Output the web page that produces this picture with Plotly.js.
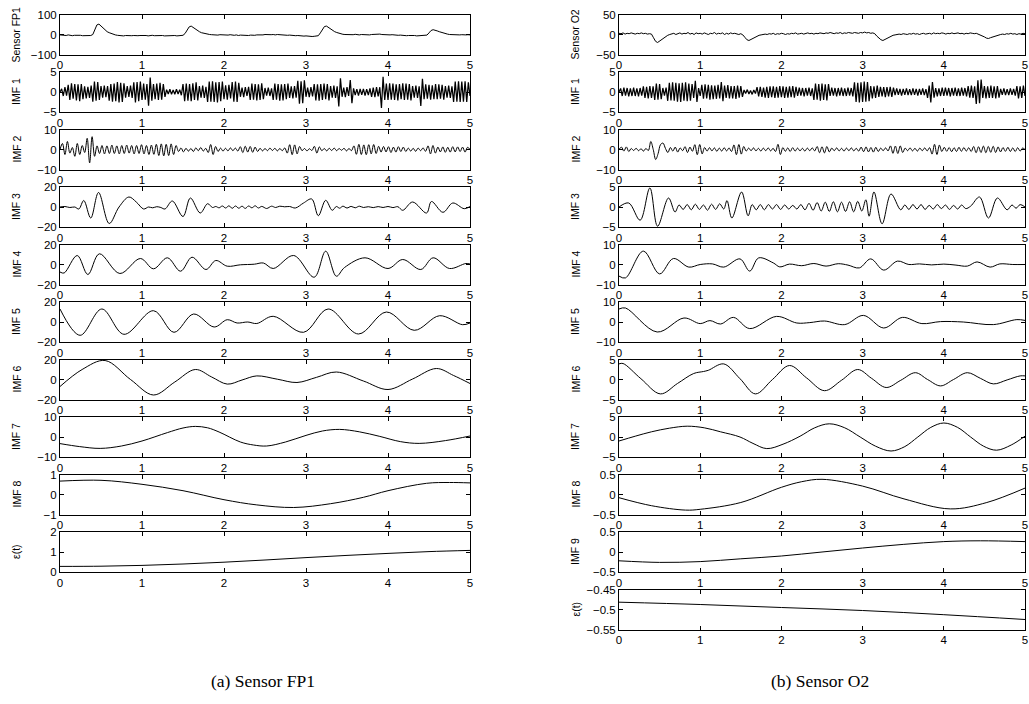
<!DOCTYPE html>
<html><head><meta charset="utf-8">
<script src="https://cdn.plot.ly/plotly-3.0.1.min.js"></script>
<style>html,body{margin:0;padding:0;background:#fff}#chart{width:1029px;height:704px}</style>
</head><body><div id="chart"></div>
<script>
// ---------------- DATA ----------------
// Uniformly sampled series: time grid spans 0..5 s over the array length.
const fp1Sensor = [-2,-4,-3,-5,-2,-4,-6,-4,-3,-5,-4,-6,-5,-4,-6,-5,
 0,25,48,52,42,32,22,14,9,4,1,-2,
 -4,-6,-5,-7,-5,-6,-4,-6,-5,-7,-6,-5,-4,-6,-5,-7,-5,-4,-6,-5,-6,-4,-5,-7,-6,-5,-4,-6,-5,-7,-6,-5,
 -4,5,22,38,42,34,26,19,14,9,6,3,1,0,
 -1,-2,0,-3,-1,-2,-4,-2,-3,-1,-3,-4,-2,-5,-3,-4,-6,-4,-5,-3,-5,-4,-2,-3,-1,-2,0,-1,1,-1,0,-2,0,-1,-3,-1,-2,-4,-3,-5,-4,-6,-5,-7,-6,-8,-7,-9,-8,-10,-9,-8,
 -6,8,28,40,42,34,26,19,14,10,6,3,1,
 0,-1,-2,0,-1,1,-1,-2,0,-1,-3,-1,-2,0,1,-1,0,2,0,-1,1,0,-2,-1,-3,-2,-4,-3,-5,-4,-6,-5,-4,-6,-5,-7,-6,-5,-7,-6,
 -3,8,20,24,22,18,14,10,7,4,2,0,
 -1,-2,-1,-3,-2,-1,-3,-2,-1,-2];

const fp1Imf1 = [0,0.8,-1.0,1.2,-0.9, 1.8,-2.0,2.2,-1.7,2.0, -2.1,1.9,-2.3,2.0,-1.8, 1.4,-1.6,1.3,-1.5,1.6,
 -2.4,2.6,-2.2,2.5,-2.0, 1.5,-1.4,1.6,-1.3,1.5, -2.2,2.0,-2.4,2.1,-2.3, 2.5,-2.6,2.3,-2.5,2.2,
 -1.4,1.5,-1.2,1.6,-1.5, 2.4,-2.6,2.5,-2.3,2.6, -2.0,2.1,-1.9,2.0,-3.4, 3.6,-2.2,2.0,-1.8,2.1,
 -2.0,2.3,-1.9,2.0,-1.2, 0.6,-0.5,0.7,-0.6,0.5, -0.6,0.7,-0.5,0.6,-0.8, 2.0,-2.3,2.1,-2.2,2.0,
 -2.3,2.2,-2.0,2.4,-2.1, 1.5,-1.4,1.6,-1.5,1.3, -2.5,2.6,-2.4,2.7,-2.5, 2.4,-2.6,2.5,-2.3,2.6,
 -1.8,1.7,-1.9,1.8,-1.6, 2.5,-2.4,2.6,-2.5,2.3, -1.2,1.1,-1.3,1.2,-1.0, 1.3,-2.0,2.1,-1.9,2.0,
 -2.1,1.9,-2.0,2.2,-1.8, 1.0,-0.9,1.1,-1.0,0.9, -2.0,2.1,-1.9,2.0,-2.2, 1.9,-2.1,2.0,-1.8,2.1,
 -1.5,1.4,-1.6,1.5,-1.4, 2.8,-2.9,2.7,-2.8,2.9, -1.2,1.1,-1.3,1.2,-1.1, 2.0,-2.1,1.9,-2.2,2.0,
 -2.0,2.1,-1.8,2.0,-2.1, 1.5,-1.4,1.6,-1.5,1.4, -3.6,3.4,-1.2,1.1,-1.3, 1.2,-1.0,3.0,-2.8,0.9,
 -0.8,0.7,-0.9,0.8,-0.7, 0.8,-0.9,0.7,-0.8,0.9, -1.2,1.1,-1.3,1.2,-1.1, 1.2,-4.0,3.8,-2.0,2.1,
 -2.0,2.2,-1.9,2.1,-2.0, 1.9,-2.1,2.0,-1.8,2.2, -2.0,2.1,-1.9,2.0,-2.1, 1.5,-1.4,1.6,-1.5,1.4,
 -3.5,3.3,-1.8,1.9,-1.7, 1.8,-1.9,1.7,-1.8,2.0, -1.8,1.9,-1.7,1.8,-1.9, 1.5,-1.4,1.6,-1.5,1.4,
 -2.5,2.6,-2.4,2.7,-2.5, 2.6,-2.4,2.7,-2.5,2.4, -1.0];

const fp1Imf2 = [0,3,-2.5,4,-1.8,1,-3.4,3,-2.5,2,-1.5,
 5.6,-6.7,6.4,-3.4,1.8,
 -2,2,-2.2,1.8,-2,2.2,-2,1.8,-2.2,2,-2,2.2,-1.8,2,-2.2,2,-2,2.4,-2.2,2,-2.5,2.2,-2.4,
 2.6,-3,2.8,-3.2,2.6,-3,2.8,-2.5,2,
 -1,0.8,-1.2,0.6,-0.8,0.5,-1,0.8,-0.6,1,-0.8,0.6,
 -1.5,2.5,-2.5,1.5,-1,
 0.7,-0.8,0.6,-0.7,0.8,-0.6,0.7,-0.8,
 1.4,-1.5,1.6,-1.3,1.5,-1.4,1.2,-1,
 0.6,-0.7,0.5,-0.6,0.7,-0.5,0.6,-0.7,0.5,-0.6,0.8,
 -1.8,2.4,-2.6,2.3,-2.2,1.5,
 -0.6,0.5,-0.7,0.4,-0.5,
 1.6,-1.8,1.3,
 -0.6,0.5,-0.7,0.6,-0.5,0.7,-0.6,0.5,-0.4,0.6,-0.7,0.5,-0.6,
 1.8,-2.4,2.6,-2.5,2.3,-2.6,2.4,-2.2,2.5,-2,1.6,
 -1.3,1.5,-1.2,1.4,-1.5,1.2,-1.3,1.4,-1,1.2,-1,
 0.7,-0.8,0.6,-0.9,0.7,-0.6,0.8,-0.9,
 1.8,-2.2,2,-1.8,1.2,
 -1.2,1.3,-1.4,1.1,-1.3,1.4,-1.2,1.3,-1,1.2,-1.3,1.1,0];

// Knot series (time in s, value)
const fp1Imf3T = [0,0.06,0.12,0.18,0.23,0.29,0.375,0.47,0.6,0.72,0.84,0.93,1.02,1.08,1.13,1.18,1.23,1.28,1.37,1.5,1.59,1.71,1.8,1.86,1.9,1.94,1.98,2.02,2.06,2.1,2.14,2.18,2.22,2.26,2.3,2.34,2.38,2.42,2.46,2.52,2.58,2.63,2.68,2.74,2.8,2.87,2.97,3.07,3.15,3.24,3.32,3.37,3.41,3.45,3.5,3.55,3.6,3.65,3.7,3.76,3.82,3.88,3.94,4.0,4.06,4.12,4.18,4.3,4.47,4.53,4.67,4.79,4.93,5.0];
const fp1Imf3V = [0,0.5,-0.5,0,-2,6.5,-11,14.5,-16.5,0,10,5,-2,0,-0.8,0.3,-0.5,-2,6,-9.5,9,-6,3.3,-0.5,0.5,-0.8,1,-1,1.2,-1.3,1,-1.2,0.8,-1.4,1,-0.8,1.2,-1,0.6,-1.5,0.8,-0.5,0.8,0.2,0.5,-1,4,8,-8.7,6.7,-3.3,0.5,-1.2,0.8,-1,0.6,-0.8,0.8,-0.5,0.3,-0.6,0.4,-0.5,0.5,-0.6,0.3,-3.3,5,-6,5.5,-5.3,4,-1.7,0.5];

const fp1Imf4T = [0,0.05,0.21,0.34,0.48,0.73,0.98,1.14,1.31,1.47,1.61,1.78,1.9,2.04,2.2,2.37,2.48,2.6,2.85,3.1,3.24,3.37,3.47,3.72,4.0,4.18,4.4,4.55,4.75,4.95,5.0];
const fp1Imf4V = [-7.5,-8.5,9,-10,10.7,-9,6,-4.3,6.7,-6.7,7.3,-5,4,-1.7,-0.3,0.3,1.5,-4,9,-12.7,13.3,-11.7,-3,6.7,-4,5,-5,6.7,-4,1,0.5];

const fp1Imf5T = [0,0.245,0.51,0.78,1.14,1.39,1.63,1.88,2.04,2.16,2.29,2.4,2.6,2.97,3.27,3.64,3.98,4.32,4.63,4.91,5.0];
const fp1Imf5V = [13,-13.3,13,-12.3,11.3,-10.3,8,-5,2.3,-1,0,-1.5,5.7,-10.3,13,-12,10,-8.3,6.3,-2.7,-1];

const fp1Imf6T = [0,0.27,0.55,0.86,1.14,1.4,1.65,1.85,2.04,2.22,2.4,2.65,2.89,3.13,3.37,3.7,4.0,4.3,4.59,4.8,5.0];
const fp1Imf6V = [-7,10,19,0,-15.5,-2.5,10,2.5,-4.6,-0.5,3.6,0.3,-3,2.2,7.5,-1.5,-10,0.5,11,4,-4];

const fp1Imf7T = [0,0.24,0.49,0.75,1.0,1.31,1.5,1.65,1.8,1.94,2.2,2.36,2.52,2.75,3.0,3.2,3.41,3.65,3.9,4.15,4.38,4.7,5.0];
const fp1Imf7V = [-3.3,-4.8,-5.7,-4.5,-2,2.2,4.5,5.3,4.6,2.5,-2.5,-4,-4.5,-2.5,0.8,3,3.8,2.6,0.3,-2.3,-3.2,-1.8,0.5];

const fp1Imf8T = [0,0.5,1.0,1.5,2.0,2.4,2.85,3.3,3.7,4.0,4.47,4.75,5.0];
const fp1Imf8V = [0.67,0.71,0.51,0.19,-0.26,-0.52,-0.65,-0.46,-0.14,0.19,0.56,0.6,0.58];

const fp1ResT = [0,0.5,1,1.5,2,2.5,3,3.5,4,4.5,5];
const fp1ResV = [0.28,0.29,0.33,0.4,0.49,0.6,0.72,0.83,0.93,1.02,1.08];

const o2Sensor = [3,2,4,1,3,2,4,3,1,3,2,4,2,3,1,2,
 1,-8,-17,-20,-16,-12,-8,-5,-2,0,
 1,3,0,2,4,1,3,2,5,1,3,0,4,2,3,1,4,2,0,3,2,5,1,3,2,4,0,3,1,4,2,3,1,0,2,
 -1,-7,-13,-15,-12,-9,-6,-4,-2,-1,0,
 1,0,2,1,3,0,2,1,3,2,0,2,1,3,2,4,1,2,3,1,2,4,2,3,1,3,2,4,3,2,4,3,5,3,2,4,3,5,2,4,3,5,4,3,5,4,3,5,4,6,4,5,3,4,
 2,-4,-9,-13,-15,-12,-9,-6,-4,-2,-1,0,
 1,0,2,1,0,2,1,3,1,2,0,2,3,1,2,3,1,4,2,3,2,4,3,1,3,2,4,2,3,4,2,3,1,3,2,4,3,2,3,1,
 0,-3,-6,-9,-10,-8,-6,-4,-2,-1,0,
 1,0,2,1,3,1,2,0,2,1,3,2];

const o2Imf1 = [0,0.9,-1.0,1.1,-0.9, 1.0,-1.1,0.9,-1.0,1.1, -1.0,0.9,-1.1,1.0,-0.9, 1.4,-1.5,1.3,-1.6,1.5,
 -1.5,1.4,-2.0,2.1,-1.9, 2.0,-1.8,1.0,-0.9,1.1, -2.2,2.3,-2.1,2.4,-2.2, 2.3,-2.4,2.2,-2.5,2.3,
 -2.2,2.4,-2.3,2.1,-2.2, 2.0,-1.5,2.8,-2.5,1.0, -1.0,1.8,-1.7,1.9,-1.6, 1.8,-1.9,1.7,-1.8,1.6,
 -1.7,1.8,-1.6,2.5,-2.3, 1.6,-1.5,1.7,-1.6,1.5, -1.6,1.5,-1.7,1.6,-1.4, 1.5,-1.2,0.5,-0.4,0.6,
 -0.5,0.4,-0.6,0.5,-0.4, 1.2,-1.1,1.3,-1.2,1.1, -1.4,1.3,-1.5,1.4,-1.3, 1.4,-1.5,1.3,-1.4,1.5,
 -1.3,1.4,-1.5,1.3,-1.4, 1.4,-1.3,1.5,-1.4,1.3, -1.0,1.1,-0.9,1.0,-1.1, 1.0,-0.9,1.1,-1.0,0.9,
 -2.0,2.1,-1.9,2.0,-2.2, 2.1,-2.0,1.9,-2.1,2.0, -1.0,1.1,-0.9,1.0,-1.1, 1.0,-0.9,1.1,-1.0,0.9,
 -1.0,1.1,-0.9,1.0,-1.1, 2.4,-2.5,2.3,-2.6,2.4, -2.5,2.6,-2.4,2.5,-2.3, 1.5,-1.6,1.4,-1.5,1.6,
 -1.2,1.3,-1.1,1.2,-1.3, 1.2,-1.1,1.3,-1.2,1.1, -0.8,0.9,-0.7,0.8,-0.9, 0.8,-0.7,0.9,-0.8,0.7,
 -0.8,0.9,-0.7,0.8,-0.9, 0.8,-0.7,0.9,-0.8,0.7, -1.5,1.6,-2.6,2.5,-1.4, 1.0,-1.1,0.9,-1.0,1.1,
 -1.0,1.1,-0.9,1.0,-1.1, 1.0,-0.9,1.1,-1.0,0.9, -1.0,1.1,-0.9,1.0,-1.1, 1.5,-1.4,1.6,-1.5,1.4,
 -3.0,2.9,-2.8,3.1,-1.5, 1.5,-1.6,1.4,-1.5,1.6, -1.5,1.4,-1.6,1.5,-1.4, 0.8,-0.7,0.9,-0.8,0.7,
 -0.8,0.9,-0.7,0.8,-0.9, 1.5,-1.6,1.4,-1.5,1.6, -1.0];

const o2Imf2 = [0,1.2,-0.8,1.3,-1,0.5,-0.5,0.6,-0.6,0.4,-0.8,0.5,
 -0.5,4,0,-5,-2,2.5,3.2,0.5,-1.5,
 1.0,-0.8,1.2,-1.3,0.8,-0.6,1.4,-1.5,1.2,-0.9,
 2.4,-2.6,2.5,-2.2,
 1.0,-0.8,0.9,-0.7,0.8,-0.9,0.7,-0.8,0.9,-0.7,0.8,-1.0,
 2.3,-2.6,2.5,-2.3,1.5,
 -0.8,0.7,-0.6,0.8,-0.7,0.6,-0.8,0.7,-0.6,0.8,-0.7,0.6,-1,
 2.6,-2.5,
 1.0,-0.9,0.8,-1,0.9,-0.8,0.7,
 -0.7,0.6,-0.8,0.7,-0.6,0.8,-0.7,
 1.5,-1.6,1.4,-1.7,1.5,-1.2,
 0.7,-0.6,0.8,-0.7,0.6,-0.8,0.7,-0.6,0.8,-0.7,0.6,-0.8,
 1.2,-1.1,1.3,-1.2,1.0,-1.3,1.1,-1.0,
 0.7,-0.6,0.8,-0.7,
 1.8,-1.9,1.7,-2.0,1.8,-1.5,
 0.7,-0.6,0.8,-0.7,0.6,-0.8,0.7,-0.6,0.8,-0.7,0.9,
 -2.3,2.6,-2.5,2.2,
 -1.0,1.1,-0.9,1.0,-1.1,0.9,-1.0,1.1,-0.9,1.0,-0.8,0.9,-1.0,
 1.5,-1.6,1.4,-1.5,1.7,-1.6,1.5,-1.4,1.6,-1.5,1.3,-1.2,
 1.0,-0.9,1.1,-1.0,0.8,-1.0,0.9,-0.8,0.7,0];

const o2Imf3T = [0,0.12,0.26,0.38,0.475,0.61,0.69,0.74,0.79,0.84,0.89,0.94,0.99,1.04,1.09,1.14,1.19,1.24,1.29,1.33,1.39,1.51,1.59,1.64,1.69,1.74,1.79,1.84,1.89,1.94,1.99,2.04,2.09,2.14,2.19,2.24,2.29,2.34,2.39,2.44,2.49,2.54,2.59,2.64,2.69,2.74,2.79,2.84,2.89,2.94,2.99,3.04,3.08,3.14,3.24,3.35,3.47,3.52,3.57,3.62,3.67,3.72,3.77,3.82,3.87,3.92,3.97,4.02,4.07,4.12,4.17,4.22,4.27,4.33,4.44,4.55,4.66,4.78,4.84,4.89,4.94,5.0];
const o2Imf3V = [0,1,-3.3,4.75,-4.8,2.25,-1.25,0.5,-0.6,0.6,-0.7,0.7,-0.6,0.5,-0.8,0.7,-0.6,0.8,-0.5,1.6,-2.75,3.75,-2.2,0.6,-0.7,0.6,-0.7,0.6,-0.5,0.6,-0.6,0.5,-0.5,0.4,-0.5,0.6,-0.7,0.9,-0.8,1.1,-1.0,1.2,-1.1,1.3,-1.2,1.2,-1.1,1.3,-1.2,1.4,-1.0,1.8,-2.3,3.75,-4.2,3.25,-0.7,0.5,-0.6,0.6,-0.5,0.6,-0.6,0.4,-0.5,0.6,-0.4,0.5,-0.6,0.4,-0.5,0.5,-0.4,0.2,2.5,-2.75,2.25,-0.7,0.5,-0.3,0.6,0];

const o2Imf4T = [0,0.08,0.3,0.5,0.67,0.86,1.0,1.15,1.29,1.49,1.61,1.72,1.9,1.98,2.1,2.25,2.4,2.55,2.7,2.82,2.96,3.1,3.26,3.43,3.57,3.7,3.85,4.0,4.15,4.29,4.41,4.57,4.69,4.85,5.0];
const o2Imf4V = [-5.8,-6.7,6.7,-4.7,3,-1.3,0,0.3,-1.3,2.8,-3.3,3.3,0.8,-1.2,0.2,-0.6,0.5,-0.8,0.4,-0.3,-1.7,2.8,-2.8,1.7,0,0.3,-0.2,0.2,-0.3,-0.8,1.3,-1.3,0.3,0,0];

const o2Imf5T = [0,0.08,0.47,0.8,1.0,1.12,1.25,1.41,1.61,1.94,2.19,2.35,2.53,2.78,3.01,3.26,3.49,3.73,3.96,4.24,4.61,4.9,5.0];
const o2Imf5V = [6.5,7,-5,2,-0.8,0.7,-1,2.3,-3.3,2.8,-0.5,-0.3,0.5,-1.3,3.3,-3,2.3,-0.8,0.2,0,-1.3,1.2,0.8];

const o2Imf6T = [0,0.05,0.27,0.51,0.72,0.92,1.04,1.1,1.29,1.49,1.68,1.89,2.1,2.31,2.53,2.74,2.94,3.11,3.29,3.47,3.65,3.8,3.96,4.12,4.29,4.45,4.61,4.78,4.94,5.0];
const o2Imf6V = [3.9,4,0.2,-3.6,-1,1.5,2,2.3,3.9,0.2,-3.6,0,3.5,0.4,-2.8,-0.2,2.5,0.3,-2,-0.2,1.7,0,-1.6,0,1.7,0.3,-1.1,-0.1,0.9,0.9];

const o2Imf7T = [0,0.2,0.4,0.62,0.84,1.05,1.25,1.49,1.65,1.82,2.02,2.23,2.41,2.59,2.78,2.97,3.16,3.35,3.52,3.68,3.84,4.0,4.17,4.33,4.49,4.65,4.83,5.0];
const o2Imf7V = [-1,0.2,1.3,2.2,2.7,2.3,1.3,0,-1.6,-2.9,-1.8,0.2,2.3,3.3,2.3,0,-2.3,-3.5,-2.4,0,2.4,3.5,2.4,0,-2.3,-3.3,-2,0.2];

const o2Imf8T = [0,0.4,0.82,1.0,1.5,2.0,2.25,2.5,3.0,3.51,4.08,4.53,5.0];
const o2Imf8V = [-0.08,-0.28,-0.39,-0.37,-0.2,0.18,0.32,0.38,0.21,-0.11,-0.36,-0.2,0.16];

const o2Imf9T = [0,0.5,1.0,1.5,2.0,2.5,3.0,3.5,4.0,4.45,5.0];
const o2Imf9V = [-0.22,-0.26,-0.24,-0.17,-0.1,0,0.1,0.19,0.26,0.28,0.26];

const o2ResT = [0,1,2,3,4,5];
const o2ResV = [-0.4817,-0.4875,-0.495,-0.5025,-0.513,-0.525];

// Labels, ranges, tick labels
const fp1Labels = ['Sensor FP1','IMF 1','IMF 2','IMF 3','IMF 4','IMF 5','IMF 6','IMF 7','IMF 8','ε(t)'];
const fp1Ranges = [[-100,100],[-5,5],[-10,10],[-20,20],[-20,20],[-20,20],[-20,20],[-10,10],[-1,1],[0,2]];
const fp1TickText = [['−100','0','100'],['−5','0','5'],['−10','0','10'],['−20','0','20'],['−20','0','20'],['−20','0','20'],['−20','0','20'],['−10','0','10'],['−1','0','1'],['0','1','2']];
const o2Labels = ['Sensor O2','IMF 1','IMF 2','IMF 3','IMF 4','IMF 5','IMF 6','IMF 7','IMF 8','IMF 9','ε(t)'];
const o2Ranges = [[-50,50],[-5,5],[-10,10],[-5,5],[-10,10],[-10,10],[-5,5],[-5,5],[-0.5,0.5],[-0.5,0.5],[-0.55,-0.45]];
const o2TickText = [['−50','0','50'],['−5','0','5'],['−10','0','10'],['−5','0','5'],['−10','0','10'],['−10','0','10'],['−5','0','5'],['−5','0','5'],['−0.5','0','0.5'],['−0.5','0','0.5'],['−0.55','−0.5','−0.45']];
const xTickVals = [0,1,2,3,4,5];
const xTickText = ['0','1','2','3','4','5'];
const captions = ['(a) Sensor FP1','(b) Sensor O2'];

// ---------------- BUILD ----------------
function grid(arr){ const n=arr.length; return arr.map((_,i)=>5*i/(n-1)); }
const fp1Series = [
  {x:grid(fp1Sensor), y:fp1Sensor, s:'linear', w:1},
  {x:grid(fp1Imf1), y:fp1Imf1, s:'linear', w:1.25},
  {x:grid(fp1Imf2), y:fp1Imf2, s:'spline', w:1},
  {x:fp1Imf3T, y:fp1Imf3V, s:'spline', w:1},
  {x:fp1Imf4T, y:fp1Imf4V, s:'spline', w:1},
  {x:fp1Imf5T, y:fp1Imf5V, s:'spline', w:1},
  {x:fp1Imf6T, y:fp1Imf6V, s:'spline', w:1},
  {x:fp1Imf7T, y:fp1Imf7V, s:'spline', w:1},
  {x:fp1Imf8T, y:fp1Imf8V, s:'spline', w:1},
  {x:fp1ResT, y:fp1ResV, s:'spline', w:1}
];
const o2Series = [
  {x:grid(o2Sensor), y:o2Sensor, s:'linear', w:1},
  {x:grid(o2Imf1), y:o2Imf1, s:'linear', w:1.25},
  {x:grid(o2Imf2), y:o2Imf2, s:'spline', w:1},
  {x:o2Imf3T, y:o2Imf3V, s:'spline', w:1},
  {x:o2Imf4T, y:o2Imf4V, s:'spline', w:1},
  {x:o2Imf5T, y:o2Imf5V, s:'spline', w:1},
  {x:o2Imf6T, y:o2Imf6V, s:'spline', w:1},
  {x:o2Imf7T, y:o2Imf7V, s:'spline', w:1},
  {x:o2Imf8T, y:o2Imf8V, s:'spline', w:1},
  {x:o2Imf9T, y:o2Imf9V, s:'spline', w:1},
  {x:o2ResT, y:o2ResV, s:'spline', w:1}
];

const W=1029, H=704;
const panels = [
  {series:fp1Series, labels:fp1Labels, ranges:fp1Ranges, ticks:fp1TickText, x0:60, x1:470, labX:16, capX:263},
  {series:o2Series, labels:o2Labels, ranges:o2Ranges, ticks:o2TickText, x0:619, x1:1025, labX:575, capX:820}
];
const ROW_TOP0=14.5, ROW_PITCH=57.5, ROW_H=40;
const tickFont = {family:'Liberation Sans, Arial, sans-serif', size:11.5, color:'#000'};

const data=[], layout={width:W,height:H,margin:{l:0,r:0,t:0,b:0},paper_bgcolor:'#fff',plot_bgcolor:'#fff',showlegend:false,annotations:[]};
let k=0;
panels.forEach(p=>{
  p.series.forEach((ser,i)=>{
    k++;
    const xa = k===1?'xaxis':'xaxis'+k, ya = k===1?'yaxis':'yaxis'+k;
    const xr = k===1?'x':'x'+k, yr = k===1?'y':'y'+k;
    const top = ROW_TOP0 + ROW_PITCH*i, bot = top+ROW_H;
    const n = Math.min(ser.x.length, ser.y.length);
    data.push({x:ser.x.slice(0,n), y:ser.y.slice(0,n), xaxis:xr, yaxis:yr, type:'scatter', mode:'lines',
      line:{color:'#000', width:ser.w, shape:ser.s, smoothing:1}, hoverinfo:'skip'});
    const lo=p.ranges[i][0], hi=p.ranges[i][1];
    layout[xa] = {domain:[p.x0/W, p.x1/W], anchor:yr, range:[0,5], tickmode:'array', tickvals:xTickVals, ticktext:xTickText,
      ticks:'inside', ticklen:4, tickwidth:1, tickcolor:'#000', showline:true, linecolor:'#000', linewidth:1, mirror:'ticks',
      showgrid:false, zeroline:false, tickfont:tickFont, fixedrange:true};
    layout[ya] = {domain:[1-bot/H, 1-top/H], anchor:xr, range:[lo,hi], tickmode:'array', tickvals:[lo,(lo+hi)/2,hi], ticktext:p.ticks[i],
      ticks:'inside', ticklen:4, tickwidth:1, tickcolor:'#000', showline:true, linecolor:'#000', linewidth:1, mirror:'ticks',
      showgrid:false, zeroline:false, tickfont:tickFont, fixedrange:true};
    layout.annotations.push({xref:'paper', yref:'paper', x:p.labX/W, y:1-(top+ROW_H/2)/H, text:p.labels[i], textangle:-90,
      showarrow:false, xanchor:'center', yanchor:'middle', font:{family:'Liberation Sans, Arial, sans-serif', size:10.5, color:'#000'}});
  });
});
captions.forEach((c,j)=>{
  layout.annotations.push({xref:'paper', yref:'paper', x:panels[j].capX/W, y:1-681/H, text:c, showarrow:false,
    xanchor:'center', yanchor:'middle', font:{family:'Liberation Serif, Times New Roman, serif', size:17.5, color:'#000'}});
});
Plotly.newPlot('chart', data, layout, {staticPlot:true, displayModeBar:false});
</script>
</body></html>
